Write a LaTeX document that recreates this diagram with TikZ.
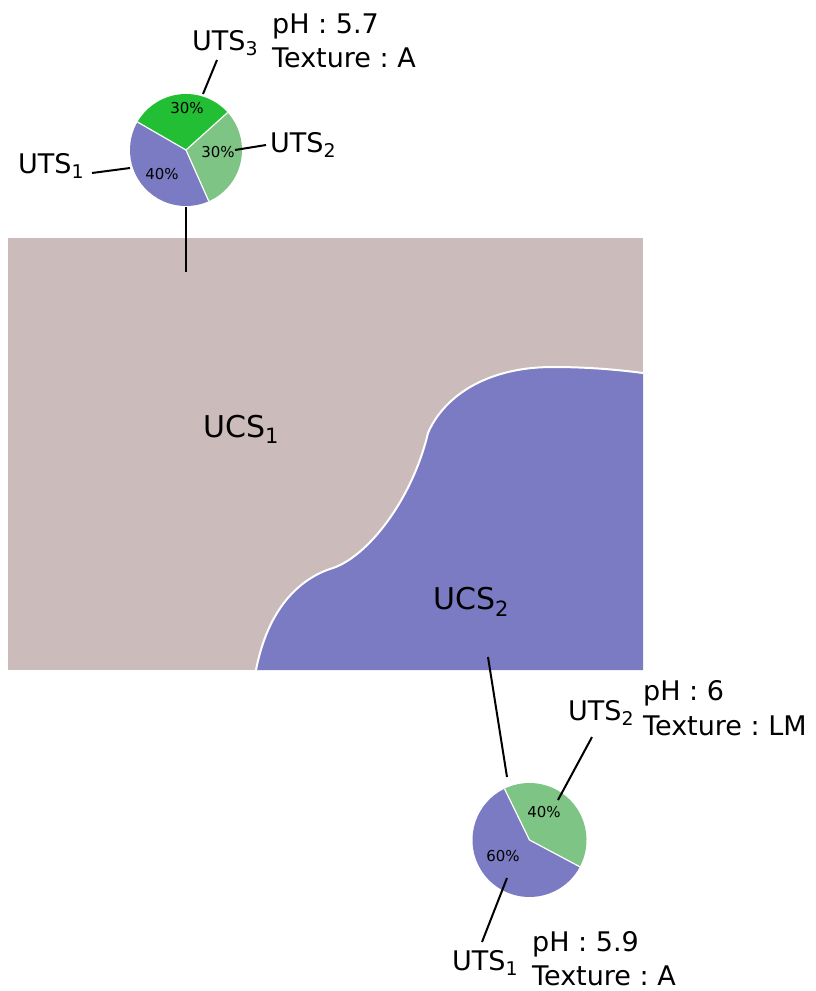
\documentclass[tikz,border=0pt]{standalone}
\usepackage{fontspec}
\setmainfont{DejaVu Sans}
\frenchspacing
\usetikzlibrary{positioning}
\definecolor{soilpink}{RGB}{203,187,186}
\definecolor{soilblue}{RGB}{123,123,195}
\definecolor{utsblue}{RGB}{123,123,195}
\definecolor{utslight}{RGB}{125,196,133}
\definecolor{utsgreen}{RGB}{34,190,52}

\begin{document}
\begin{tikzpicture}[x=1pt,y=-1pt,
  lbl/.style={font=\fontsize{27}{34}\selectfont,inner sep=0pt,anchor=base west},
  ucs/.style={font=\fontsize{30}{36}\selectfont,inner sep=0pt,anchor=base west},
  pct/.style={font=\fontsize{15}{18}\selectfont,inner sep=0pt},
  lead/.style={line width=2pt},
  sep/.style={white,line width=1.2pt}]
\useasboundingbox (0,0) rectangle (816,991);

% soil map
\fill[soilpink] (8,238) rectangle (643,670);
\fill[soilblue] (256,670) .. controls (268,608) and (300,578) .. (333,568)
  .. controls (368,556) and (412,500) .. (428,433)
  .. controls (442,400) and (482,367) .. (553,367)
  .. controls (590,367) and (620,370) .. (643,373)
  -- (643,670) -- cycle;
\draw[white,line width=2pt] (256,670) .. controls (268,608) and (300,578) .. (333,568)
  .. controls (368,556) and (412,500) .. (428,433)
  .. controls (442,400) and (482,367) .. (553,367)
  .. controls (590,367) and (620,370) .. (643,373);
\node[ucs] (ucs1) at (203,437) {UCS\textsubscript{1}};
\node[ucs] (ucs2) at (433,609) {UCS\textsubscript{2}};

% upper pie
\begin{scope}[shift={(186,150)},yscale=-1]
\fill[utsblue] (0,0) -- (150:56) arc[start angle=150,end angle=294,radius=56] -- cycle;
\fill[utslight] (0,0) -- (-66:56) arc[start angle=-66,end angle=42,radius=56] -- cycle;
\fill[utsgreen] (0,0) -- (42:56) arc[start angle=42,end angle=150,radius=56] -- cycle;
\draw[sep] (150:56) -- (0,0) -- (42:56) (0,0) -- (-66:56);
\end{scope}
\node[pct] (pA1) at (162,174) {40\%};
\node[pct] (pA2) at (218,152) {30\%};
\node[pct] (pA3) at (187,108) {30\%};
\node[lbl] (tA1) at (18,173) {UTS\textsubscript{1}};
\node[lbl] (tA2) at (270,152) {UTS\textsubscript{2}};
\node[lbl] (tA3) at (192,50) {UTS\textsubscript{3}};
\node[lbl] (phA) at (272,33) {pH : 5.7};
\node[lbl] (texA) at (272,67) {Texture : A};
\coordinate (a1) at (92,173);
\coordinate (b1) at (130,168);
\coordinate (a2) at (266,145);
\coordinate (b2) at (235,150);
\coordinate (a3) at (217,60);
\coordinate (b3) at (203,94);
\coordinate (topA) at (186,207);
\coordinate (inA) at (186,272);
\draw[lead] (a1) -- (b1);
\draw[lead] (a2) -- (b2);
\draw[lead] (a3) -- (b3);
\draw[lead] (topA) -- (inA);

% lower pie
\begin{scope}[shift={(529.5,840)},yscale=-1]
\fill[utsblue] (0,0) -- (116:57) arc[start angle=116,end angle=332,radius=57] -- cycle;
\fill[utslight] (0,0) -- (-28:57) arc[start angle=-28,end angle=116,radius=57] -- cycle;
\draw[sep] (116:57) -- (0,0) -- (-28:57);
\end{scope}
\node[pct] (pB2) at (544,812) {40\%};
\node[pct] (pB1) at (503,856) {60\%};
\node[lbl] (tB2) at (568,720) {UTS\textsubscript{2}};
\node[lbl] (tB1) at (452,970) {UTS\textsubscript{1}};
\node[lbl] (phB) at (643,700) {pH : 6};
\node[lbl] (texB) at (643,735) {Texture : LM};
\node[lbl] (phC) at (532,951) {pH : 5.9};
\node[lbl] (texC) at (532,985) {Texture : A};
\coordinate (c2) at (592,737);
\coordinate (d2) at (558,800);
\coordinate (c1) at (482,942);
\coordinate (d1) at (507,878);
\coordinate (inB) at (488,657);
\coordinate (topB) at (507,777);
\draw[lead] (c2) -- (d2);
\draw[lead] (c1) -- (d1);
\draw[lead] (inB) -- (topB);
\end{tikzpicture}
\end{document}
